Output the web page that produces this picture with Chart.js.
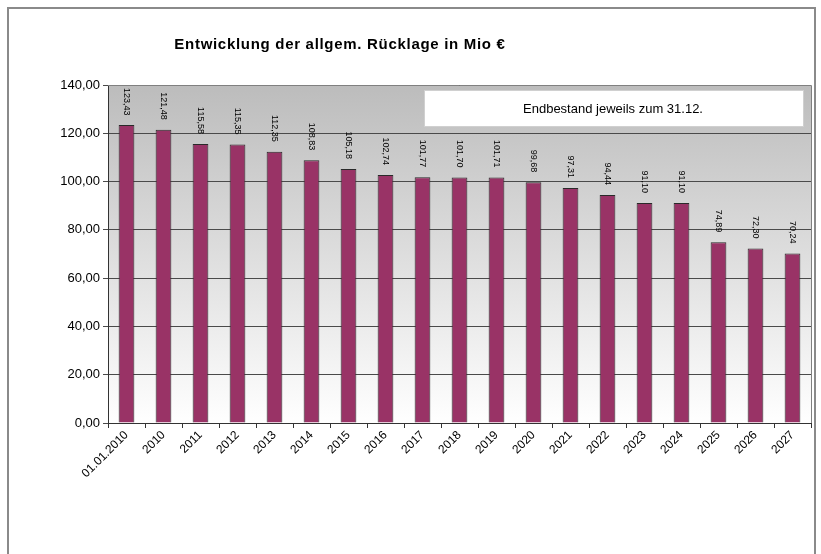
<!DOCTYPE html>
<html>
<head>
<meta charset="utf-8">
<script src="https://cdn.jsdelivr.net/npm/chart.js@4/dist/chart.umd.min.js"></script>
<style>
  html, body { margin: 0; padding: 0; background: #fff; }
  #wrap { width: 821px; height: 554px; }
</style>
</head>
<body>
<div id="wrap"><canvas id="chart" width="821" height="554"></canvas></div>
<script>
  const years = ['01.01.2010', '2010', '2011', '2012', '2013', '2014', '2015', '2016', '2017',
    '2018', '2019', '2020', '2021', '2022', '2023', '2024', '2025', '2026', '2027'];
  const reserve = [123.43, 121.48, 115.58, 115.35, 112.35, 108.83, 105.18, 102.74, 101.77,
    101.70, 101.71, 99.68, 97.31, 94.44, 91.10, 91.10, 74.89, 72.30, 70.24];
  const titleText = 'Entwicklung der allgem. Rücklage in Mio €';
  const noteText = 'Endbestand jeweils zum 31.12.';

  const fmt = v => v.toFixed(2).replace('.', ',');
  const FONT = '"Liberation Sans", Arial, sans-serif';

  // plot background, frame, title and the note box
  const decor = {
    id: 'decor',
    beforeDraw(chart) {
      const { ctx, chartArea: a } = chart;
      ctx.save();
      ctx.strokeStyle = '#8a8a8a';
      ctx.lineWidth = 2;
      ctx.strokeRect(8, 8, 807, 560);
      const g = ctx.createLinearGradient(0, a.top, 0, a.bottom);
      g.addColorStop(0, '#bcbcbc');
      g.addColorStop(1, '#ffffff');
      ctx.fillStyle = g;
      ctx.fillRect(a.left, a.top, a.right - a.left, a.bottom - a.top);
      ctx.restore();
    },
    afterDraw(chart) {
      const { ctx, chartArea: a } = chart;
      ctx.save();
      ctx.strokeStyle = '#808080';
      ctx.lineWidth = 1;
      ctx.beginPath();
      ctx.moveTo(a.left, a.top + 0.5);
      ctx.lineTo(a.right + 0.5, a.top + 0.5);
      ctx.lineTo(a.right + 0.5, a.bottom);
      ctx.stroke();

      ctx.fillStyle = '#fff';
      ctx.fillRect(424, 90, 379, 36);
      ctx.strokeStyle = '#d0d0d0';
      ctx.strokeRect(424.5, 90.5, 379, 36);
      ctx.fillStyle = '#000';
      ctx.font = '13px ' + FONT;
      ctx.textAlign = 'center';
      ctx.textBaseline = 'middle';
      ctx.fillText(noteText, 613, 109);

      ctx.font = 'bold 15px ' + FONT;
      ctx.letterSpacing = '0.7px';
      ctx.fillText(titleText, 340, 45);
      ctx.restore();
    },
    afterDatasetsDraw(chart) {
      const { ctx } = chart;
      const meta = chart.getDatasetMeta(0);
      ctx.save();
      ctx.fillStyle = '#000';
      ctx.font = '9px ' + FONT;
      ctx.textAlign = 'right';
      ctx.textBaseline = 'middle';
      meta.data.forEach((bar, i) => {
        ctx.save();
        ctx.translate(bar.x, Math.max(bar.y - 10, chart.chartArea.top + 3 + ctx.measureText(fmt(reserve[i])).width));
        ctx.rotate(Math.PI / 2);
        ctx.fillText(fmt(reserve[i]), 0, 0);
        ctx.restore();
      });
      ctx.restore();
    }
  };

  new Chart(document.getElementById('chart'), {
    type: 'bar',
    data: {
      labels: years,
      datasets: [{
        data: reserve,
        backgroundColor: '#993366',
        borderColor: '#2a2a2a',
        borderWidth: 1,
        borderSkipped: 'bottom',
        barPercentage: 0.85,
        categoryPercentage: 0.5,
      }],
    },
    options: {
      responsive: false,
      animation: false,
      devicePixelRatio: 1,
      layout: { padding: { top: 85, right: 10, left: 0, bottom: 0 } },
      plugins: { legend: { display: false }, tooltip: { enabled: false }, title: { display: false } },
      scales: {
        x: {
          afterFit: s => { s.height = 131; },
          grid: { display: true, drawOnChartArea: false, offset: true, color: '#333', tickLength: 5 },
          border: { color: '#333', width: 1 },
          ticks: {
            color: '#000',
            font: { family: FONT, size: 12 },
            maxRotation: 45, minRotation: 45,
            autoSkip: false,
            padding: 0,
          },
        },
        y: {
          min: 0, max: 140,
          afterFit: s => { s.width = 108; },
          grid: { color: '#4a4a4a', tickLength: 5 },
          border: { color: '#333', width: 1 },
          ticks: {
            stepSize: 20,
            color: '#000',
            font: { family: FONT, size: 13 },
            padding: 3,
            callback: v => fmt(v),
          },
        },
      },
    },
    plugins: [decor],
  });
</script>
</body>
</html>
